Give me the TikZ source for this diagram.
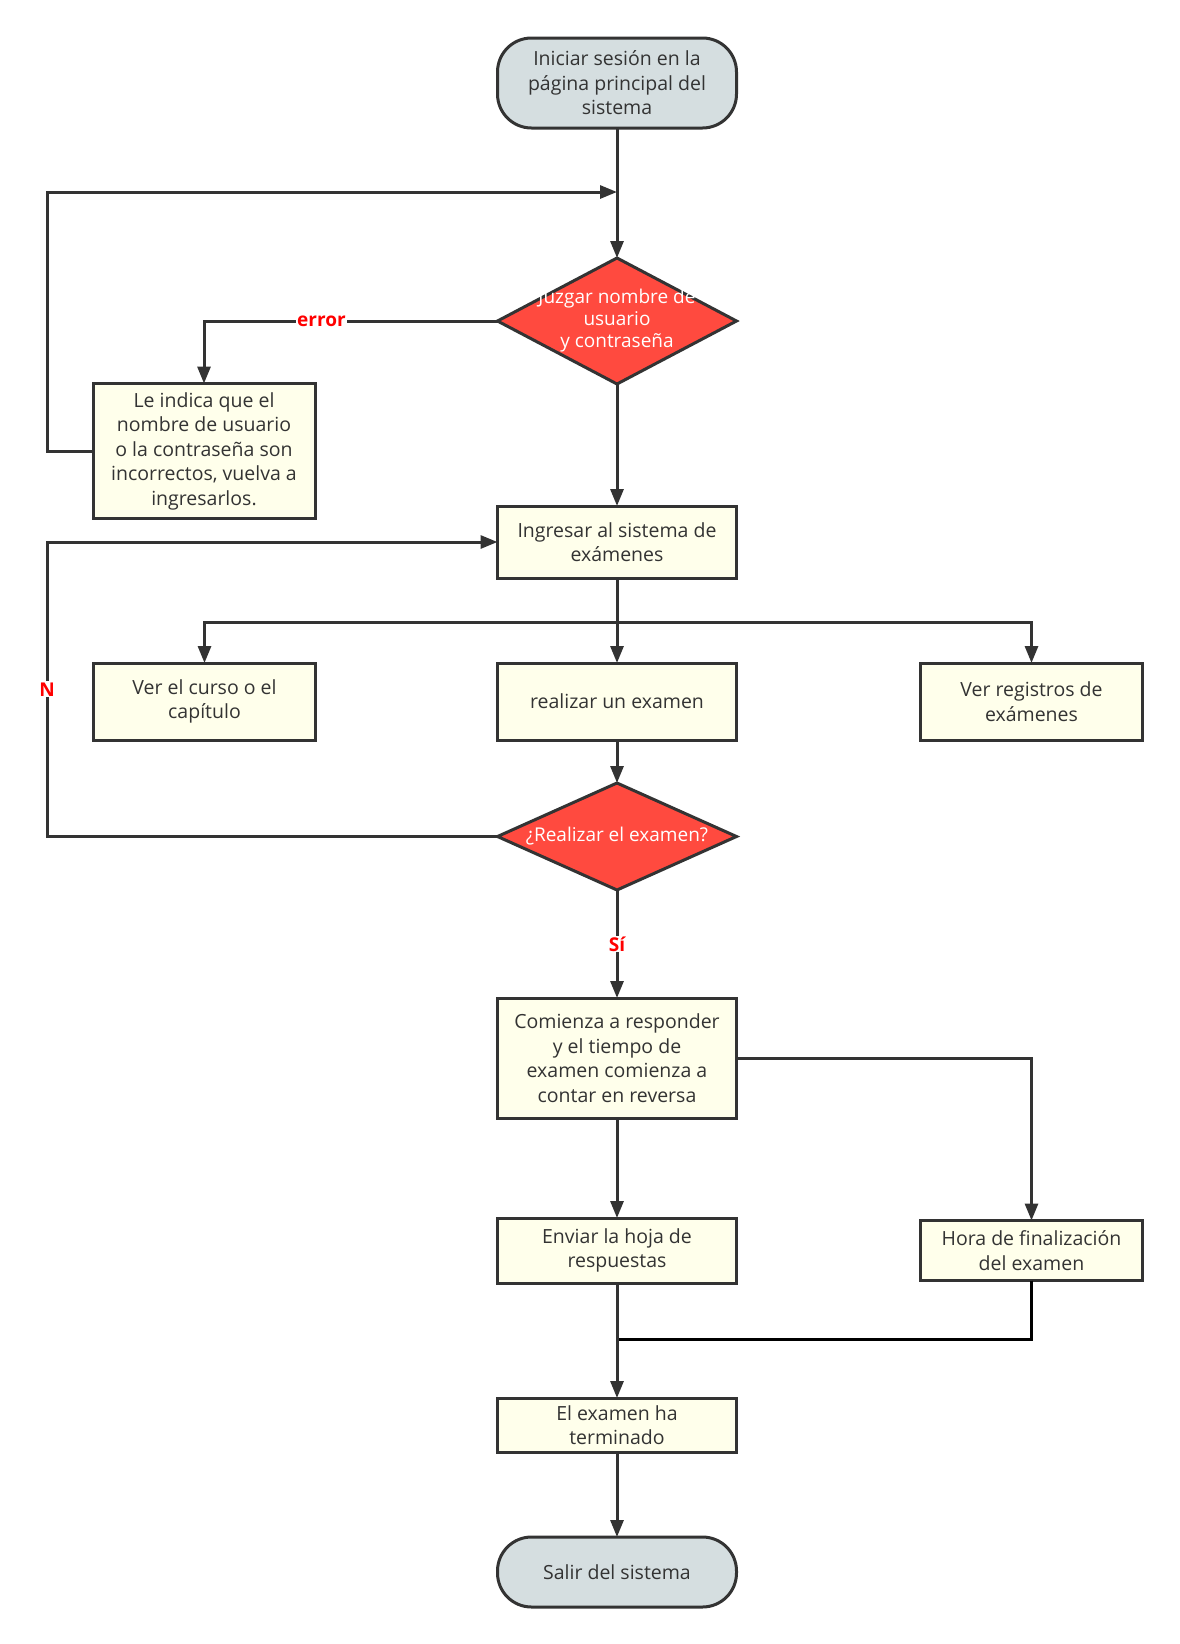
\documentclass[tikz,border=0pt]{standalone}
\usepackage{fontspec}
\setmainfont{Open Sans}
\usetikzlibrary{positioning,arrows.meta,shapes.geometric}
\definecolor{Ink}{HTML}{333333}
\definecolor{Note}{HTML}{FFFFEB}
\definecolor{Term}{HTML}{D5DEE0}
\definecolor{Alarm}{HTML}{FF4A3F}
\definecolor{Tag}{HTML}{FF0000}

\begin{document}
\begin{tikzpicture}[x=1pt, y=-1pt,
    line width=3pt,
    every node/.style={font=\fontsize{19.5}{24.5}\selectfont, text=Ink},
    box/.style={draw=Ink, fill=Note, minimum width=239pt, align=center, inner sep=2pt, outer sep=0pt},
    term/.style={box, fill=Term, rounded corners=34pt},
    dia/.style={diamond, draw=Ink, fill=Alarm, minimum width=239pt, inner sep=0pt, outer sep=0pt},
    dtext/.style={text=white, font=\fontsize{19}{22}\selectfont, align=center},
    lbl/.style={fill=white, text=Tag, font=\fontsize{19}{20}\selectfont\bfseries, inner sep=1pt},
    arr/.style={-{Triangle[length=17pt, width=13pt]}, draw=Ink}
  ]
  \path[use as bounding box, fill=white] (0,0) rectangle (1179,1644);

  \node[term, minimum height=90pt] (start) at (617,83) {Iniciar sesión en la\\página principal del\\sistema};
  \node[dia, minimum height=126pt, below=130pt of start, label={[dtext]center:{Juzgar nombre de\\usuario\\y contraseña}}] (judge) {};
  \node[box, minimum width=222pt, minimum height=135pt] (wrong) at (204,451) {Le indica que el\\nombre de usuario\\o la contraseña son\\incorrectos, vuelva a\\ingresarlos.};
  \node[box, minimum height=72pt, below=122pt of judge] (enter) {Ingresar al sistema de\\exámenes};
  \node[box, minimum height=77pt, below=85pt of enter] (exam) {realizar un examen};
  \node[box, minimum width=222pt, minimum height=77pt, left=182pt of exam] (course) {Ver el curso o el\\capítulo};
  \node[box, minimum width=222pt, minimum height=77pt, right=184pt of exam] (records) {Ver registros de\\exámenes};
  \node[dia, minimum height=107pt, below=43pt of exam, label={[dtext]center:{¿Realizar el examen?}}] (take) {};
  \node[box, minimum height=120pt, below=108pt of take] (answer) {Comienza a responder\\y el tiempo de\\examen comienza a\\contar en reversa};
  \node[box, minimum height=65pt, below=100pt of answer] (submit) {Enviar la hoja de\\respuestas};
  \node[box, minimum width=222pt, minimum height=60pt, right=184pt of submit] (timeup) {Hora de finalización\\del examen};
  \node[box, minimum height=54pt, below=115pt of submit] (done) {El examen ha\\terminado};
  \node[term, minimum height=70pt, below=85pt of done] (leave) {Salir del sistema};

  \coordinate (back) at (617,192);
  \coordinate (rail) at (47,0);
  \coordinate (split) at (617,622);
  \coordinate (merge) at (617,1339);

  \draw[arr] (start) -- (judge);
  \draw[arr] (wrong.west) -| (rail |- back) -- (back);
  \draw[arr] (judge.west) -| node[lbl, pos=0.3]{error} (wrong.north);
  \draw[arr] (judge) -- (enter);
  \draw[arr] (enter) -- (exam);
  \draw[arr] (split) -| (course.north);
  \draw[arr] (split) -| (records.north);
  \draw[arr] (exam) -- (take);
  \draw[arr] (take.west) -| node[lbl, pos=0.75]{N} (rail |- enter.west) -- (enter.west);
  \draw[arr] (take) -- node[lbl]{Sí} (answer);
  \draw[arr] (answer.east) -| (timeup.north);
  \draw[arr] (answer) -- (submit);
  \draw (timeup.south) |- (merge);
  \draw[arr] (submit) -- (done);
  \draw[arr] (done) -- (leave);
\end{tikzpicture}
\end{document}
